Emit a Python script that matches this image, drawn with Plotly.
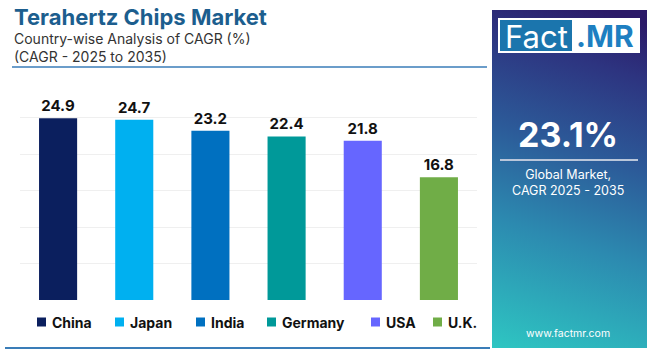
import plotly.graph_objects as go
import urllib.parse

# ---- data ----
countries = ["China", "Japan", "India", "Germany", "USA", "U.K."]
cagr = [24.9, 24.7, 23.2, 22.4, 21.8, 16.8]
colors = ["#0B1F5E", "#00B0F0", "#0070C0", "#009999", "#6666FF", "#70AD47"]
global_cagr = "23.1%"

# legend item left edges (pixels) – layout only
legend_x = [37, 115, 196, 267, 371, 433]

W, H = 650, 350
T, B = 81, 50
PH = H - T - B


def px(x):
    return x / W


def py(y):
    return 1 - (y - T) / PH


FONT = "Inter, 'Open Sans', sans-serif"

fig = go.Figure()
for c, v, col in zip(countries, cagr, colors):
    fig.add_trace(go.Bar(
        x=[c], y=[v], name=c, marker=dict(color=col, line=dict(width=0)),
        text=[f"{v:.1f}"], textposition="outside", cliponaxis=False,
        textfont=dict(family=FONT, size=15, color="#111111", weight="bold"),
        showlegend=False,
    ))

# gradient panel as svg
svg = (
    "<svg xmlns='http://www.w3.org/2000/svg' width='155' height='338' viewBox='0 0 155 338' preserveAspectRatio='none'>"
    "<defs><linearGradient id='g' gradientUnits='userSpaceOnUse' x1='0' y1='338' x2='110' y2='0'>"
    "<stop offset='0' stop-color='#2EC6C2'/>"
    "<stop offset='0.35' stop-color='#2C8AB0'/>"
    "<stop offset='0.6' stop-color='#2C5B99'/>"
    "<stop offset='0.85' stop-color='#2D3480'/>"
    "<stop offset='1' stop-color='#2B1A68'/>"
    "</linearGradient></defs><rect width='155' height='338' fill='url(#g)'/></svg>"
)
src = "data:image/svg+xml;charset=utf-8," + urllib.parse.quote(svg)

px0, px1, py0, py1 = 492, 647, 10, 348
fig.add_layout_image(dict(
    source=src, xref="paper", yref="paper",
    x=px(px0), y=py(py0), sizex=px(px1) - px(px0), sizey=py(py0) - py(py1),
    xanchor="left", yanchor="top", sizing="stretch", layer="below",
))

shapes = [
    dict(type="line", xref="paper", yref="paper", x0=px(12), x1=px(487), y0=py(67), y1=py(67),
         line=dict(color="#3A7DB8", width=1.5)),
    dict(type="line", xref="paper", yref="paper", x0=px(5), x1=px(490), y0=py(348), y1=py(348),
         line=dict(color="#3A7DB8", width=2)),
    dict(type="rect", xref="paper", yref="paper", x0=px(498), x1=px(640), y0=py(18), y1=py(53),
         fillcolor="white", line=dict(width=0)),
    dict(type="rect", xref="paper", yref="paper", x0=px(500), x1=px(572), y0=py(20), y1=py(51),
         fillcolor="#1B75AD", line=dict(width=0)),
    dict(type="line", xref="paper", yref="paper", x0=px(500), x1=px(638), y0=py(160), y1=py(160),
         line=dict(color="#B9C6DA", width=2)),
]

ann = [
    dict(text="<b>Terahertz Chips Market</b>", x=px(12), y=py(17), xanchor="left", yanchor="middle",
         font=dict(family=FONT, size=22, color="#1C5E8E")),
    dict(text="Country-wise Analysis of CAGR (%)<br>(CAGR - 2025 to 2035)", x=px(12), y=py(47),
         xanchor="left", yanchor="middle", align="left",
         font=dict(family=FONT, size=14, color="#333333")),
    dict(text="Fact", x=px(536), y=py(36), xanchor="center", yanchor="middle",
         font=dict(family=FONT, size=31, color="white")),
    dict(text="<b>.MR</b>", x=px(605), y=py(36), xanchor="center", yanchor="middle",
         font=dict(family=FONT, size=30, color="#1E7FC1")),
    dict(text="<b>" + global_cagr + "</b>", x=px(568), y=py(134), xanchor="center", yanchor="middle",
         font=dict(family=FONT, size=34, color="white")),
    dict(text="Global Market,<br>CAGR 2025 - 2035", x=px(568), y=py(182), xanchor="center",
         yanchor="middle", font=dict(family=FONT, size=12.5, color="white")),
    dict(text="www.factmr.com", x=px(568), y=py(333), xanchor="center", yanchor="middle",
         font=dict(family=FONT, size=10.5, color="white")),
]

# custom legend
LEG_Y = 322
for name, col, lx in zip(countries, colors, legend_x):
    shapes.append(dict(type="rect", xref="paper", yref="paper",
                       x0=px(lx), x1=px(lx + 9), y0=py(LEG_Y - 4.5), y1=py(LEG_Y + 4.5),
                       fillcolor=col, line=dict(width=0)))
    ann.append(dict(text="<b>" + name + "</b>", x=px(lx + 13), y=py(LEG_Y), xanchor="left",
                    yanchor="middle", font=dict(family=FONT, size=14, color="#111111")))

for a in ann:
    a.update(xref="paper", yref="paper", showarrow=False)

fig.update_layout(
    width=W, height=H,
    margin=dict(l=0, r=0, t=T, b=B, autoexpand=False),
    paper_bgcolor="white", plot_bgcolor="rgba(0,0,0,0)",
    barmode="overlay", bargap=0.5,
    shapes=shapes, annotations=ann, showlegend=False,
    xaxis=dict(domain=[20 / W, 477 / W], showticklabels=False, showgrid=False, zeroline=False,
               showline=False, ticks=""),
    yaxis=dict(range=[0, 30], dtick=5, showticklabels=False, showgrid=True, gridcolor="#EFEFEF",
               gridwidth=1, zeroline=False, showline=False, ticks=""),
    font=dict(family=FONT),
)

fig.write_html("out.html")
